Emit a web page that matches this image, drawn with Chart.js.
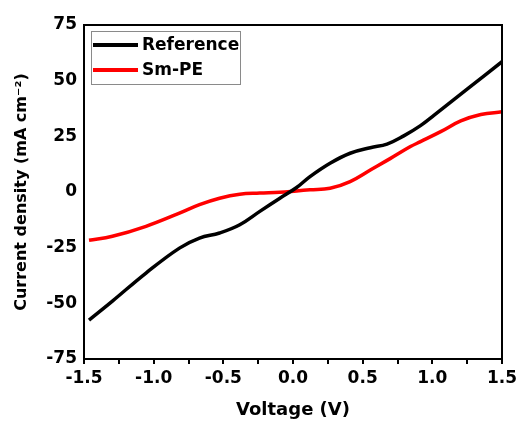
<!DOCTYPE html>
<html><head><meta charset="utf-8">
<script src="https://cdn.jsdelivr.net/npm/chart.js@4/dist/chart.umd.min.js"></script>
<style>html,body{margin:0;padding:0;background:#fff}#wrap{width:517px;height:421px}</style>
</head><body><div id="wrap"><canvas id="c" width="517" height="421"></canvas></div>
<script>
const seriesNames = ["Reference", "Sm-PE"];
const seriesColors = ["#000000", "#ff0000"];
const refV = [-1.464,-1.296,-1.055,-0.815,-0.671,-0.527,-0.382,-0.238,-0.094,0.026,0.122,0.266,0.41,0.555,0.675,0.795,0.915,1.011,1.252,1.5];
const refJ = [-57.5,-49.0,-36.4,-25.2,-20.7,-18.4,-14.7,-8.7,-2.8,2.0,6.9,12.9,17.4,19.9,21.5,25.2,29.8,34.4,46.3,58.5];
const smV = [-1.464,-1.296,-1.055,-0.815,-0.671,-0.527,-0.382,-0.238,-0.094,0.026,0.122,0.266,0.41,0.555,0.70,0.843,0.915,1.06,1.204,1.348,1.5];
const smJ = [-21.7,-19.9,-15.4,-9.5,-5.7,-2.8,-1.0,-0.5,-0.1,0.5,1.0,1.7,4.7,9.9,15.1,20.4,22.6,27.1,31.9,34.8,36.0];
const xTicks = [-1.5,-1.0,-0.5,0.0,0.5,1.0,1.5];
const yTicks = [-75,-50,-25,0,25,50,75];
const xTitle = "Voltage (V)";
const yTitle = "Current density (mA cm⁻²)";

const FONT = "'DejaVu Sans', sans-serif";
const toPts = (xs, ys) => xs.map((x, i) => ({x: x, y: ys[i]}));

const framePlugin = {
  id: 'frame',
  afterDraw(chart) {
    const {ctx, chartArea: a} = chart;
    ctx.save();
    ctx.strokeStyle = '#000';
    ctx.lineWidth = 2;
    ctx.strokeRect(a.left, a.top, a.right - a.left, a.bottom - a.top);
    // legend
    const lx = a.left + 7, ly = a.top + 6, lw = 149, lh = 53;
    ctx.lineWidth = 1;
    ctx.strokeStyle = '#8a8a8a';
    ctx.strokeRect(lx + 0.5, ly + 0.5, lw, lh);
    chart.data.datasets.forEach((ds, i) => {
      const yy = ly + 14 + i * 25;
      ctx.strokeStyle = ds.borderColor;
      ctx.lineWidth = 4;
      ctx.beginPath();
      ctx.moveTo(lx + 2, yy);
      ctx.lineTo(lx + 47, yy);
      ctx.stroke();
      ctx.fillStyle = '#000';
      ctx.font = "bold 17px " + FONT;
      ctx.textBaseline = 'middle';
      ctx.textAlign = 'left';
      ctx.fillText(ds.label, lx + 51, yy + 1);
    });
    ctx.restore();
  }
};

new Chart(document.getElementById('c'), {
  type: 'line',
  data: {
    datasets: [
      {label: seriesNames[0], data: toPts(refV, refJ), borderColor: seriesColors[0], borderWidth: 3.5, pointRadius: 0, tension: 0.4, fill: false},
      {label: seriesNames[1], data: toPts(smV, smJ), borderColor: seriesColors[1], borderWidth: 3.5, pointRadius: 0, tension: 0.4, fill: false}
    ]
  },
  options: {
    responsive: false,
    animation: false,
    devicePixelRatio: 1,
    layout: {padding: {left: 0, top: 25, right: 15, bottom: 0}},
    plugins: {legend: {display: false}, tooltip: {enabled: false}},
    scales: {
      x: {
        type: 'linear', min: -1.5, max: 1.5,
        afterBuildTicks(s) {
          const t = [];
          for (let i = 0; i < xTicks.length; i++) {
            t.push({value: xTicks[i]});
            if (i < xTicks.length - 1) t.push({value: (xTicks[i] + xTicks[i+1]) / 2});
          }
          s.ticks = t;
        },
        afterFit(s) { s.height = 62; s.paddingRight = 0; s.paddingLeft = 0; },
        border: {display: false},
        grid: {drawOnChartArea: false, drawTicks: true, tickLength: 5, color: '#000', lineWidth: 2},
        ticks: {
          color: '#000', font: {family: FONT, size: 17, weight: 'bold'}, padding: 4, maxRotation: 0, autoSkip: false,
          callback: (v) => xTicks.some(t => Math.abs(t - v) < 1e-9) ? Number(v).toFixed(1) : ''
        },
        title: {display: true, text: xTitle, color: '#000', font: {family: FONT, size: 18, weight: 'bold'}, padding: {top: 4, bottom: 0}}
      },
      y: {
        type: 'linear', min: -75, max: 75,
        afterBuildTicks(s) { s.ticks = yTicks.map(v => ({value: v})); },
        afterFit(s) { s.width = 84; },
        border: {display: false},
        grid: {drawOnChartArea: false, drawTicks: false},
        ticks: {color: '#000', font: {family: FONT, size: 17, weight: 'bold'}, padding: 7,
          callback: (v) => String(v)},
        title: {display: true, text: yTitle, color: '#000', font: {family: FONT, size: 16, weight: 'bold'}, padding: {top: 12, bottom: 4}}
      }
    }
  },
  plugins: [framePlugin]
});
</script></body></html>
